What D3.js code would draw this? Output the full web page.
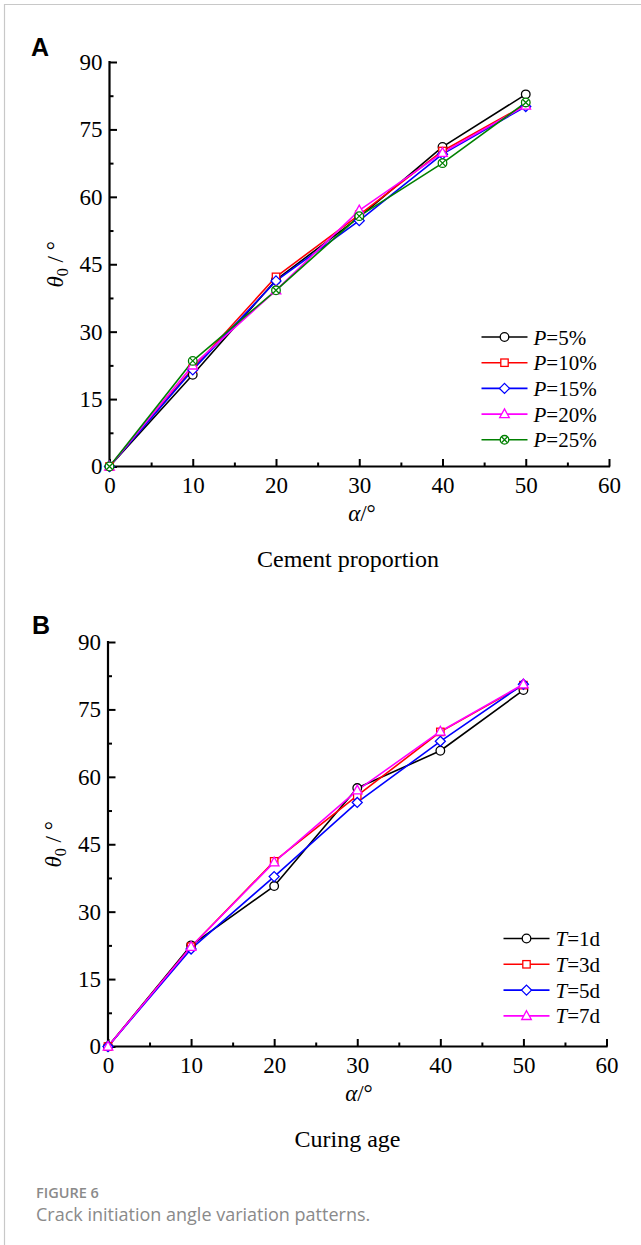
<!DOCTYPE html>
<html>
<head>
<meta charset="utf-8">
<script src="https://cdn.jsdelivr.net/npm/d3@7"></script>
<style>
  html, body { margin: 0; padding: 0; background: #fff; }
  svg { display: block; }
</style>
</head>
<body>
<svg id="fig" width="641" height="1245"></svg>
<script>
// x values: inclination angle alpha (degrees)
const alphaValues = [0, 10, 20, 30, 40, 50];

// Panel A: cement proportion series (initiation angle theta0, degrees)
const cementLabels = ["5%", "10%", "15%", "20%", "25%"];
const cementP5  = [0, 20.4, 41.5, 55.5, 71.1, 82.8];
const cementP10 = [0, 21.8, 42.2, 56.0, 70.2, 80.5];
const cementP15 = [0, 21.5, 41.3, 54.7, 69.5, 80.1];
const cementP20 = [0, 22.5, 39.2, 57.0, 69.8, 80.3];
const cementP25 = [0, 23.5, 39.2, 55.7, 67.5, 81.0];

// Panel B: curing age series
const curingLabels = ["1d", "3d", "5d", "7d"];
const curingT1 = [0, 22.5, 35.7, 57.5, 65.8, 79.3];
const curingT3 = [0, 22.2, 41.2, 55.8, 70.0, 80.4];
const curingT5 = [0, 21.7, 37.8, 54.3, 67.9, 80.6];
const curingT7 = [0, 22.2, 41.0, 57.0, 70.1, 80.6];

// Axis ticks
const xTicks = [0, 10, 20, 30, 40, 50, 60];
const xMinorTicks = [5, 15, 25, 35, 45, 55];
const yTicks = [0, 15, 30, 45, 60, 75, 90];
const yMinorTicks = [7.5, 22.5, 37.5, 52.5, 67.5, 82.5];

const serif = "'Liberation Serif', 'Times New Roman', serif";
const svg = d3.select("#fig");

// page frame lines
svg.append("line").attr("x1", 4).attr("y1", 4.5).attr("x2", 641).attr("y2", 4.5)
  .attr("stroke", "#c8c8c8").attr("stroke-width", 1.2);
svg.append("line").attr("x1", 4.5).attr("y1", 4).attr("x2", 4.5).attr("y2", 1245)
  .attr("stroke", "#c8c8c8").attr("stroke-width", 1.2);

// marker painters, centred on (0,0)
function drawMarker(g, type, color) {
  const sw = 1.3;
  if (type === "circle") {
    g.append("circle").attr("r", 4.3).attr("fill", "#fff").attr("stroke", color).attr("stroke-width", sw);
  } else if (type === "square") {
    g.append("rect").attr("x", -3.7).attr("y", -3.7).attr("width", 7.4).attr("height", 7.4)
      .attr("fill", "#fff").attr("stroke", color).attr("stroke-width", sw);
  } else if (type === "diamond") {
    g.append("path").attr("d", "M0,-5L5,0L0,5L-5,0Z")
      .attr("fill", "#fff").attr("stroke", color).attr("stroke-width", sw);
  } else if (type === "triangle") {
    g.append("path").attr("d", "M0,-5.2L4.8,3.6L-4.8,3.6Z")
      .attr("fill", "#fff").attr("stroke", color).attr("stroke-width", sw);
  } else if (type === "circlex") {
    g.append("circle").attr("r", 4.3).attr("fill", "#fff").attr("stroke", color).attr("stroke-width", sw);
    g.append("path").attr("d", "M-3,-3L3,3M-3,3L3,-3").attr("stroke", color).attr("stroke-width", sw);
  }
}

function drawPanel(cfg) {
  const g = svg.append("g");
  const x = d3.scaleLinear().domain([0, 60]).range([cfg.x0, cfg.x1]);
  const y = d3.scaleLinear().domain([0, 90]).range([cfg.y0, cfg.y1]);

  // panel letter
  g.append("text").attr("x", cfg.letterX).attr("y", cfg.letterY)
    .attr("font-family", "'Liberation Sans', Arial, sans-serif").attr("font-weight", "bold")
    .attr("font-size", 25).text(cfg.letter);

  // x axis: major and minor ticks point into the plot
  const xAxis = g.append("g").attr("transform", `translate(0,${cfg.y0})`)
    .call(d3.axisBottom(x).tickValues(xTicks).tickSize(-7.5).tickPadding(0).tickFormat(d3.format("d")));
  xAxis.select(".domain").remove();
  xAxis.selectAll(".tick line").attr("stroke-width", 2);
  xAxis.selectAll(".tick text").attr("font-family", serif).attr("font-size", 23)
    .attr("fill", "#000").attr("dy", null).attr("y", 26.5);
  const xMinor = g.append("g").attr("transform", `translate(0,${cfg.y0})`)
    .call(d3.axisBottom(x).tickValues(xMinorTicks).tickSize(-4).tickFormat(""));
  xMinor.select(".domain").remove();
  xMinor.selectAll(".tick line").attr("stroke-width", 2);

  // y axis
  const yAxis = g.append("g").attr("transform", `translate(${cfg.x0},0)`)
    .call(d3.axisLeft(y).tickValues(yTicks).tickSize(-7.5).tickPadding(8).tickFormat(d3.format("d")));
  yAxis.select(".domain").remove();
  yAxis.selectAll(".tick line").attr("stroke-width", 2);
  yAxis.selectAll(".tick text").attr("font-family", serif).attr("font-size", 23)
    .attr("fill", "#000").attr("x", -7);
  const yMinor = g.append("g").attr("transform", `translate(${cfg.x0},0)`)
    .call(d3.axisLeft(y).tickValues(yMinorTicks).tickSize(-4).tickFormat(""));
  yMinor.select(".domain").remove();
  yMinor.selectAll(".tick line").attr("stroke-width", 2);

  // axis lines
  g.append("path")
    .attr("d", `M${cfg.x0},${y(90)}V${cfg.y0}H${x(60)}`)
    .attr("fill", "none").attr("stroke", "#000").attr("stroke-width", 2.2)
    .attr("stroke-linecap", "square");

  // series lines
  const line = d3.line().x((d, i) => x(alphaValues[i])).y(d => y(d));
  cfg.series.forEach(s => {
    g.append("path").datum(s.values).attr("d", line)
      .attr("fill", "none").attr("stroke", s.color).attr("stroke-width", 1.6)
      .attr("stroke-linejoin", "round");
  });
  // markers on top of lines, series order preserved
  cfg.series.forEach(s => {
    s.values.forEach((v, i) => {
      const m = g.append("g").attr("transform", `translate(${x(alphaValues[i])},${y(v)})`);
      drawMarker(m, s.marker, s.color);
    });
  });

  // legend
  cfg.series.forEach((s, i) => {
    const ly = cfg.legY + i * cfg.legStep;
    g.append("line").attr("x1", cfg.legX).attr("x2", cfg.legX + 46)
      .attr("y1", ly).attr("y2", ly).attr("stroke", s.color).attr("stroke-width", 1.6);
    const m = g.append("g").attr("transform", `translate(${cfg.legX + 23},${ly})`);
    drawMarker(m, s.marker, s.color);
    const t = g.append("text").attr("x", cfg.legX + 52).attr("y", ly + 7.5)
      .attr("font-family", serif).attr("font-size", 21);
    t.append("tspan").attr("font-style", "italic").text(cfg.legVar);
    t.append("tspan").text("=" + s.label);
  });

  // x axis title
  const xt = g.append("text").attr("x", cfg.xTitleX).attr("y", cfg.y0 + 54)
    .attr("text-anchor", "middle").attr("font-family", serif).attr("font-size", 23);
  xt.append("tspan").attr("font-style", "italic").text("α");
  xt.append("tspan").text("/°");

  // y axis title
  const yt = g.append("text")
    .attr("transform", `translate(${cfg.x0 - 47},${(y(0) + y(90)) / 2}) rotate(-90)`)
    .attr("text-anchor", "middle").attr("font-family", serif).attr("font-size", 23);
  yt.append("tspan").attr("font-style", "italic").text("θ");
  yt.append("tspan").attr("font-size", 16).attr("dy", 5).text("0");
  yt.append("tspan").attr("dy", -5).text(" / °");

  // panel subtitle
  g.append("text").attr("x", cfg.subX).attr("y", cfg.y0 + 100.5)
    .attr("text-anchor", "middle").attr("font-family", serif).attr("font-size", 24)
    .text(cfg.subtitle);
}

const colors = ["#000000", "#ff0000", "#0000ff", "#ff00ff", "#008000"];
const markers = ["circle", "square", "diamond", "triangle", "circlex"];

drawPanel({
  letter: "A", letterX: 31, letterY: 56,
  x0: 109.5, x1: 609, y0: 466.5, y1: 62,
  series: [cementP5, cementP10, cementP15, cementP20, cementP25].map((v, i) => ({
    values: v, label: cementLabels[i], color: colors[i], marker: markers[i]
  })),
  legVar: "P", legX: 481.5, legY: 337, legStep: 25.7,
  xTitleX: 362, subX: 348, subtitle: "Cement proportion"
});

drawPanel({
  letter: "B", letterX: 32, letterY: 634,
  x0: 108, x1: 606.5, y0: 1046.5, y1: 642,
  series: [curingT1, curingT3, curingT5, curingT7].map((v, i) => ({
    values: v, label: curingLabels[i], color: colors[i], marker: markers[i]
  })),
  legVar: "T", legX: 503.5, legY: 938.5, legStep: 25.8,
  xTitleX: 359, subX: 347.5, subtitle: "Curing age"
});

// figure caption
svg.append("text").attr("x", 36).attr("y", 1198)
  .attr("font-family", "'Open Sans', 'Noto Sans', sans-serif").attr("font-weight", 600)
  .attr("font-size", 14.5).attr("fill", "#8a8a8a").text("FIGURE 6");
svg.append("text").attr("x", 36).attr("y", 1220.5)
  .attr("font-family", "'Open Sans', 'Noto Sans', sans-serif")
  .attr("font-size", 18).attr("fill", "#8a8a8a").text("Crack initiation angle variation patterns.");
</script>
</body>
</html>
